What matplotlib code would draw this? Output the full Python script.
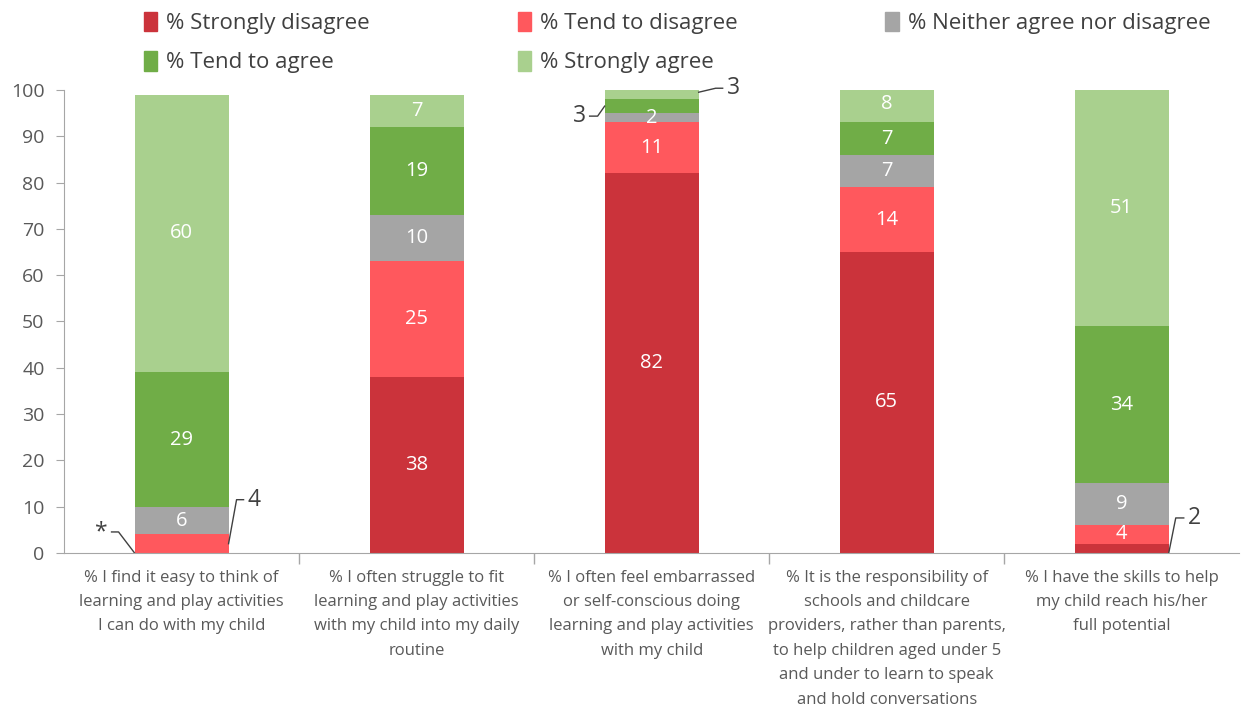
import numpy as np
import matplotlib
matplotlib.use('Agg')
import matplotlib.pyplot as plt
from matplotlib.patches import Patch

plt.rcParams['font.family'] = ['Open Sans', 'DejaVu Sans']

# Datos
categorias = [
    "% I find it easy to think of\nlearning and play activities\nI can do with my child",
    "% I often struggle to fit\nlearning and play activities\nwith my child into my daily\nroutine",
    "% I often feel embarrassed\nor self-conscious doing\nlearning and play activities\nwith my child",
    "% It is the responsibility of\nschools and childcare\nproviders, rather than parents,\nto help children aged under 5\nand under to learn to speak\nand hold conversations",
    "% I have the skills to help\nmy child reach his/her\nfull potential",
]
series = ["% Strongly disagree", "% Tend to disagree", "% Neither agree nor disagree",
          "% Tend to agree", "% Strongly agree"]
strongly_disagree = [0, 38, 82, 65, 2]
tend_disagree = [4, 25, 11, 14, 4]
neither = [6, 10, 2, 7, 9]
tend_agree = [29, 19, 3, 7, 34]
strongly_agree = [60, 7, 3, 8, 51]
# etiquetas fuera de la barra: (barra, serie, texto)
etiquetas_fuera = [(0, 0, "*"), (0, 1, "4"), (2, 3, "3"), (2, 4, "3"), (4, 0, "2")]

colores = ["#CB333B", "#FF585D", "#A5A5A5", "#70AD47", "#A9D08E"]
valores = np.array([strongly_disagree, tend_disagree, neither, tend_agree, strongly_agree])

fig = plt.figure(figsize=(12.41, 7.08), dpi=100)
ax = fig.add_axes([0.0516, 0.219, 0.947, 0.654])

x = np.arange(len(categorias))
ancho = 0.40
base = np.zeros(len(categorias))
fuera = {(b, s) for b, s, _ in etiquetas_fuera}
for i, nombre in enumerate(series):
    ax.bar(x, valores[i], ancho, bottom=base, color=colores[i], label=nombre)
    for j in range(len(x)):
        v = valores[i, j]
        if v > 0 and (j, i) not in fuera:
            ax.text(x[j], base[j] + v / 2, str(v), ha='center', va='center',
                    color='white', fontsize=14.5)
    base = base + valores[i]

ax.set_xlim(-0.5, len(categorias) - 0.5)
ax.set_ylim(0, 100)
ax.set_yticks(np.arange(0, 101, 10))
ax.set_xticks(x)
ax.set_xticklabels(categorias, fontsize=12, color='#595959', linespacing=1.7, va='top')
ax.set_xticks(np.arange(0.5, len(categorias) - 0.5, 1), minor=True)
ax.tick_params(axis='x', which='major', length=0, pad=12)
ax.tick_params(axis='x', which='minor', length=8, color='#A6A6A6', width=1)
ax.tick_params(axis='y', length=6, color='#A6A6A6', labelsize=14, labelcolor='#595959', pad=8)
for lado in ['top', 'right']:
    ax.spines[lado].set_visible(False)
for lado in ['left', 'bottom']:
    ax.spines[lado].set_color('#A6A6A6')

# lineas de llamada (desplazamientos en pixeles)
fig.canvas.draw()
def llamada(xd, yd, d1, d2, texto, lado):
    p0 = ax.transData.transform((xd, yd))
    p1 = p0 + np.array(d1)
    p2 = p1 + np.array([d2, 0])
    inv = ax.transData.inverted()
    pts = inv.transform(np.array([p0, p1, p2]))
    ax.plot(pts[:, 0], pts[:, 1], color='#404040', lw=1, clip_on=False)
    pt = inv.transform(p2 + np.array([4 * lado, 0]))
    ax.text(pt[0], pt[1], texto, ha='left' if lado > 0 else 'right', va='center',
            color='#404040', fontsize=16.5, clip_on=False)

cum = np.cumsum(valores, axis=0)
inicio = cum - valores
for b, s, t in etiquetas_fuera:
    if (b, s) == (0, 0):
        llamada(x[b] - ancho / 2, 0, (-16, 21), -7, t, -1)
    elif (b, s) == (0, 1):
        llamada(x[b] + ancho / 2, inicio[s, b] + valores[s, b] / 2, (8, 44), 7, t, 1)
    elif (b, s) == (2, 3):
        llamada(x[b] - ancho / 2, inicio[s, b] + valores[s, b] / 2, (-7, -10), -8, t, -1)
    elif (b, s) == (2, 4):
        llamada(x[b] + ancho / 2, inicio[s, b] + valores[s, b] / 2, (17, 4), 7, t, 1)
    elif (b, s) == (4, 0):
        llamada(x[b] + ancho / 2, 0, (7, 35), 8, t, 1)

# leyenda en orden por filas
handles = [Patch(color=c) for c in colores]
orden = [0, 3, 1, 4, 2]
fig.legend([handles[k] for k in orden], [series[k] for k in orden], ncol=3,
           loc='upper left', bbox_to_anchor=(0.100, 1.012), frameon=False,
           fontsize=16, handlelength=0.6, handleheight=1.0, handletextpad=0.4,
           columnspacing=6.65, labelspacing=0.75, labelcolor='#404040')

plt.savefig('out.png', dpi=100)
